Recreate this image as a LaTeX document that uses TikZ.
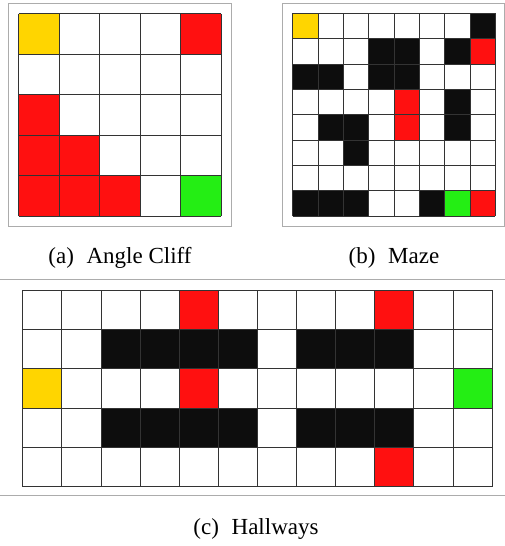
\documentclass[tikz,border=0pt]{standalone}
\usepackage{fontspec}
\setmainfont{Liberation Serif}
\definecolor{cellred}{RGB}{255,16,16}
\definecolor{cellgold}{RGB}{255,213,0}
\definecolor{cellgreen}{RGB}{36,238,20}
\definecolor{cellblack}{RGB}{13,13,13}
\tikzset{
  gridline/.style={draw=black!80,line width=0.8pt},
  panelframe/.style={draw=gray!65,line width=1pt},
  rule/.style={draw=gray!65,line width=1pt},
  caption/.style={anchor=base,font=\fontsize{23}{27}\selectfont}
}
\begin{document}
\begin{tikzpicture}[x=1pt,y=1pt]
\useasboundingbox (0,0) rectangle (505,546);
\draw[panelframe] (8.3,319.3) rectangle (231.7,542.3);
\draw[panelframe] (282.3,319.3) rectangle (504.5,542.3);
\begin{scope}[shift={(18.7,330)},x=40.46pt,y=40.46pt]
\fill[cellgold] (0,4) rectangle ++(1,1);
\foreach \c/\r in {4/4,0/2,0/1,1/1,0/0,1/0,2/0}
  \fill[cellred] (\c,\r) rectangle ++(1,1);
\fill[cellgreen] (4,0) rectangle ++(1,1);
\foreach \i in {0,...,5}{
  \draw[gridline] (\i,0) -- (\i,5);
  \draw[gridline] (0,\i) -- (5,\i);
}
\end{scope}
\begin{scope}[shift={(292.7,330)},x=25.33pt,y=25.33pt]
\fill[cellgold] (0,7) rectangle ++(1,1);
\foreach \c/\r in {7/7,3/6,4/6,6/6,0/5,1/5,3/5,4/5,6/4,1/3,2/3,6/3,2/2,0/0,1/0,2/0,5/0}
  \fill[cellblack] (\c,\r) rectangle ++(1,1);
\foreach \c/\r in {7/6,4/4,4/3,7/0}
  \fill[cellred] (\c,\r) rectangle ++(1,1);
\fill[cellgreen] (6,0) rectangle ++(1,1);
\foreach \i in {0,...,8}{
  \draw[gridline] (\i,0) -- (\i,8);
  \draw[gridline] (0,\i) -- (8,\i);
}
\end{scope}
\node[caption] at (120,282) {(a)\hspace{0.3em} Angle Cliff};
\node[caption] at (394,282) {(b)\hspace{0.3em} Maze};
\draw[rule] (0,266) -- (505,266);
\begin{scope}[shift={(22.7,59.3)},x=39.11pt,y=39.3pt]
\fill[cellgold] (0,2) rectangle ++(1,1);
\foreach \c in {2,3,4,5,7,8,9}{
  \fill[cellblack] (\c,3) rectangle ++(1,1);
  \fill[cellblack] (\c,1) rectangle ++(1,1);
}
\foreach \c/\r in {4/4,9/4,4/2,9/0}
  \fill[cellred] (\c,\r) rectangle ++(1,1);
\fill[cellgreen] (11,2) rectangle ++(1,1);
\foreach \i in {0,...,12}
  \draw[gridline] (\i,0) -- (\i,5);
\foreach \i in {0,...,5}
  \draw[gridline] (0,\i) -- (12,\i);
\end{scope}
\draw[rule] (0,50) -- (505,50);
\node[caption] at (256,11) {(c)\hspace{0.3em} Hallways};
\end{tikzpicture}
\end{document}
